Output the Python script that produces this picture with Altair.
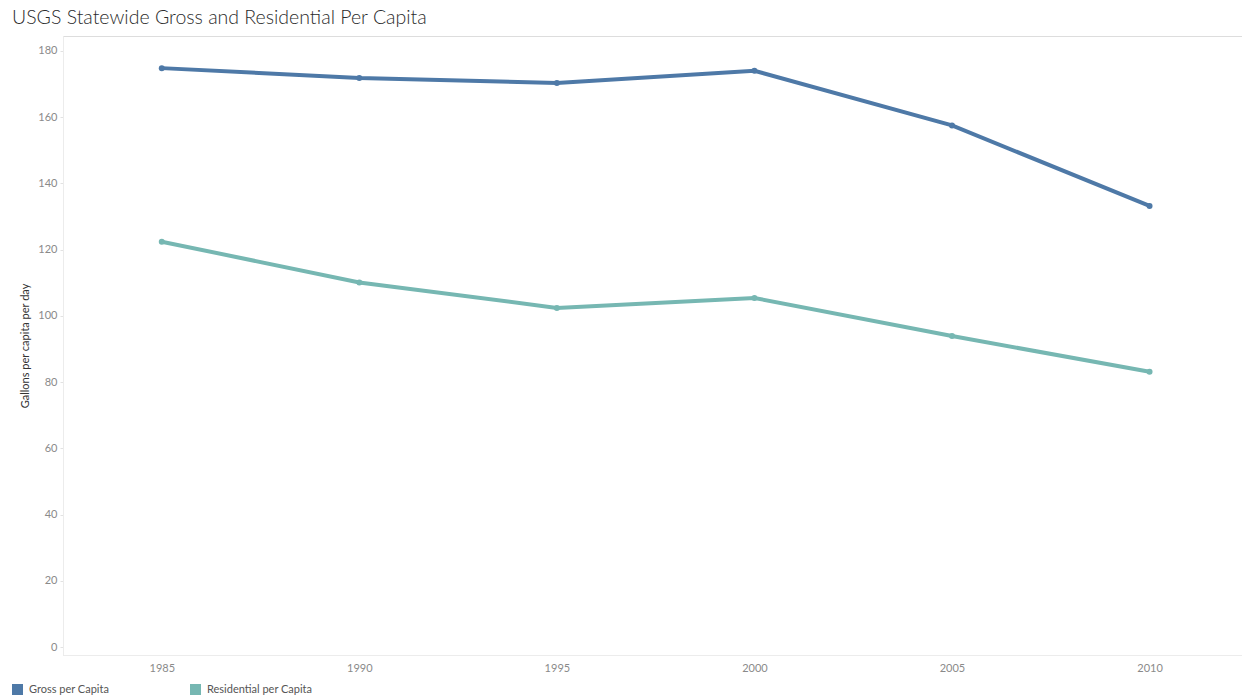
import altair as alt
import pandas as pd

years = [1985, 1990, 1995, 2000, 2005, 2010]
gross = [174.8, 171.8, 170.3, 174.0, 157.5, 133.2]
residential = [122.4, 110.1, 102.4, 105.4, 93.9, 83.1]
series_names = ["Gross per Capita", "Residential per Capita"]
colors = ["#4e79a7", "#76b7b2"]
y_ticks = [0, 20, 40, 60, 80, 100, 120, 140, 160, 180]

rows = []
for y, g, r in zip(years, gross, residential):
    rows.append({"Year": y, "Series": series_names[0], "Value": g})
    rows.append({"Year": y, "Series": series_names[1], "Value": r})
df = pd.DataFrame(rows)

FONT = "Lato"

x = alt.X(
    "Year:Q",
    scale=alt.Scale(domain=[1982.5, 2012.34], nice=False, zero=False),
    axis=alt.Axis(
        values=years, format="d", title=None, grid=False, ticks=False,
        domainColor="#ececec", labelColor="#8a8a8a", labelFontSize=11,
        labelFont=FONT, labelPadding=7,
    ),
)
y = alt.Y(
    "Value:Q",
    scale=alt.Scale(domain=[-2.4, 184.5], nice=False, zero=False),
    axis=alt.Axis(
        values=y_ticks, title="Gallons per capita per day", grid=False,
        ticks=True, tickSize=3, tickColor="#e2e2e2",
        domainColor="#ececec", labelColor="#8a8a8a", labelFontSize=11,
        labelFont=FONT, labelPadding=3, titleFont=FONT, titleFontSize=11,
        titleColor="#333333", titleFontWeight="normal", titlePadding=7,
    ),
)
color = alt.Color(
    "Series:N",
    scale=alt.Scale(domain=series_names, range=colors),
    legend=alt.Legend(
        title=None, orient="none", legendX=-51, legendY=648,
        direction="horizontal", columns=2, symbolType="square",
        symbolSize=121, symbolStrokeWidth=0, symbolOpacity=1,
        labelFont=FONT, labelFontSize=11, labelColor="#555555",
        columnPadding=80, labelOffset=6,
    ),
)

base = alt.Chart(df).encode(x=x, y=y, color=color)
lines = base.mark_line(strokeWidth=4)
points = base.mark_point(filled=True, size=36, opacity=1)

chart = (
    (lines + points)
    .properties(
        width=1179, height=619,
        title=alt.TitleParams(
            "USGS Statewide Gross and Residential Per Capita",
            anchor="start", frame="group", dx=-51, dy=19, offset=12,
            baseline="alphabetic",
            font=FONT, fontSize=19.5, fontWeight=300, color="#2b2b2b",
        ),
        autosize=alt.AutoSizeParams(type="none"),
        padding={"left": 63, "top": 36, "right": 0, "bottom": 43},
    )
    .configure_view(stroke=None)
    .configure(background="white")
)

chart.save("out.html", embed_options={"renderer": "svg", "actions": False})
